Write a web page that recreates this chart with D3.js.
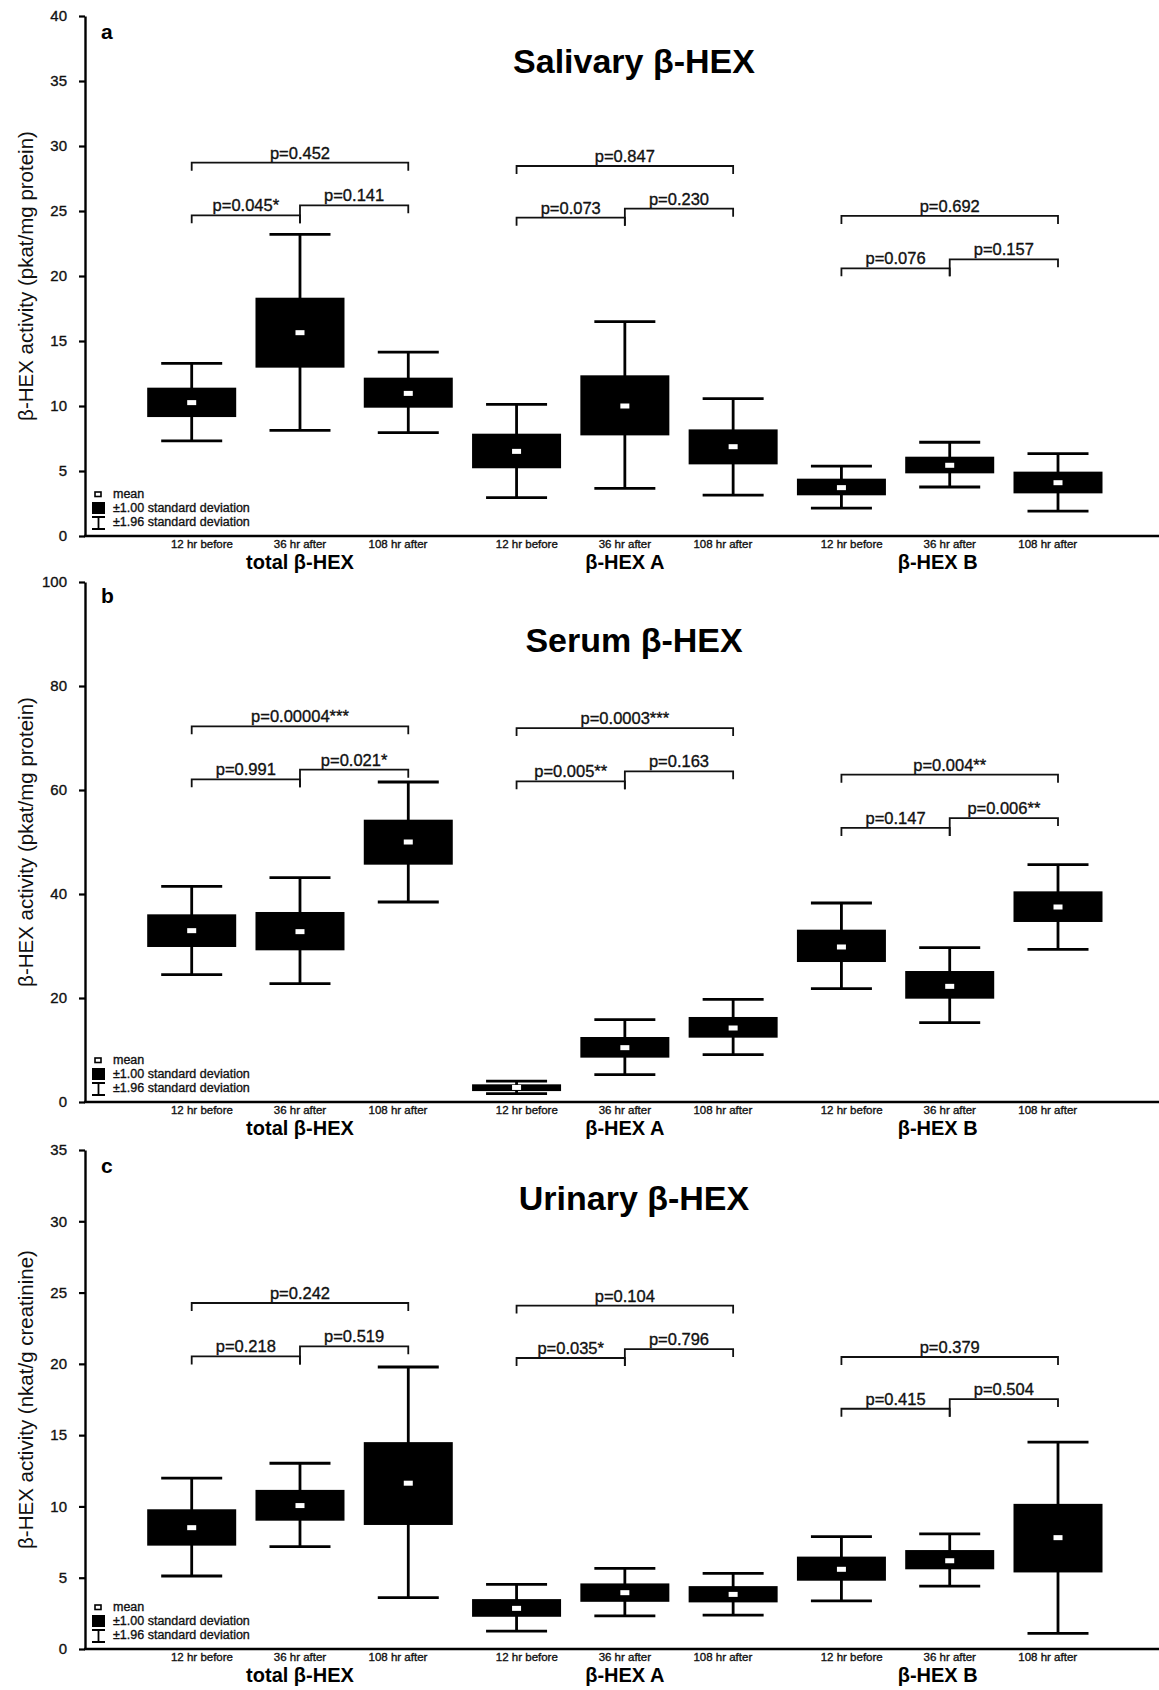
<!DOCTYPE html>
<html lang="en">
<head>
<meta charset="utf-8" />
<title>β-HEX activity</title>
<script src="https://cdn.jsdelivr.net/npm/d3@7"></script>
<style>
  body { margin: 0; background: #fff; }
  svg { display: block; font-family: "Liberation Sans", Arial, Helvetica, sans-serif; }
  .heavy { stroke: #111; stroke-width: 0.35px; }
</style>
</head>
<body>
<script>
// categories
var timepoints = ["12 hr before", "36 hr after", "108 hr after"];
var groups = ["total β-HEX", "β-HEX A", "β-HEX B"];

// values in order total 12/36/108, A 12/36/108, B 12/36/108
// salivary, pkat/mg protein
var salivaryTicks = [0, 5, 10, 15, 20, 25, 30, 35, 40];
var salivaryMean = [10.26, 15.64, 10.97, 6.51, 10.0, 6.87, 3.72, 5.44, 4.1];
var salivarySdLow = [9.15, 12.95, 9.87, 5.21, 7.74, 5.51, 3.13, 4.82, 3.28];
var salivarySdHigh = [11.41, 18.33, 12.18, 7.87, 12.36, 8.2, 4.41, 6.10, 4.95];
var salivaryCiLow = [7.31, 8.13, 7.95, 2.95, 3.67, 3.15, 2.15, 3.77, 1.92];
var salivaryCiHigh = [13.28, 23.2, 14.15, 10.13, 16.49, 10.56, 5.38, 7.21, 6.33];
// [from, to, height, label]
var salivaryTests = [
  [0, 2, 28.72, "p=0.452"], [0, 1, 24.67, "p=0.045*"], [1, 2, 25.44, "p=0.141"],
  [3, 5, 28.46, "p=0.847"], [3, 4, 24.49, "p=0.073"], [4, 5, 25.18, "p=0.230"],
  [6, 8, 24.62, "p=0.692"], [6, 7, 20.59, "p=0.076"], [7, 8, 21.28, "p=0.157"]
];

// serum, pkat/mg protein
var serumTicks = [0, 20, 40, 60, 80, 100];
var serumMean = [32.95, 32.76, 50.0, 2.8, 10.45, 14.23, 29.81, 22.24, 37.5];
var serumSdLow = [29.81, 29.17, 45.64, 2.1, 8.53, 12.37, 26.92, 19.87, 34.62];
var serumSdHigh = [36.09, 36.54, 54.29, 3.4, 12.5, 16.35, 33.14, 25.19, 40.51];
var serumCiLow = [24.49, 22.76, 38.46, 1.6, 5.26, 9.1, 21.79, 15.26, 29.36];
var serumCiHigh = [41.47, 43.14, 61.54, 4.0, 15.83, 19.74, 38.27, 29.68, 45.64];
var serumTests = [
  [0, 2, 72.24, "p=0.00004***"], [0, 1, 62.05, "p=0.991"], [1, 2, 63.9, "p=0.021*"],
  [3, 5, 71.9, "p=0.0003***"], [3, 4, 61.67, "p=0.005**"], [4, 5, 63.6, "p=0.163"],
  [6, 8, 62.95, "p=0.004**"], [6, 7, 52.7, "p=0.147"], [7, 8, 54.6, "p=0.006**"]
];

// urinary, nkat/g creatinine
var urinaryTicks = [0, 5, 10, 15, 20, 25, 30, 35];
var urinaryMean = [8.51, 10.06, 11.63, 2.85, 3.95, 3.83, 5.59, 6.19, 7.81];
var urinarySdLow = [7.25, 9.0, 8.7, 2.26, 3.31, 3.27, 4.79, 5.59, 5.37];
var urinarySdHigh = [9.8, 11.16, 14.51, 3.5, 4.6, 4.41, 6.48, 6.94, 10.18];
var urinaryCiLow = [5.12, 7.18, 3.6, 1.25, 2.33, 2.38, 3.38, 4.41, 1.09];
var urinaryCiHigh = [11.98, 13.03, 19.78, 4.53, 5.66, 5.3, 7.88, 8.07, 14.51];
var urinaryTests = [
  [0, 2, 24.27, "p=0.242"], [0, 1, 20.52, "p=0.218"], [1, 2, 21.23, "p=0.519"],
  [3, 5, 24.09, "p=0.104"], [3, 4, 20.41, "p=0.035*"], [4, 5, 21.04, "p=0.796"],
  [6, 8, 20.48, "p=0.379"], [6, 7, 16.85, "p=0.415"], [7, 8, 17.53, "p=0.504"]
];

var panels = [
  { letter: "a", title: "Salivary β-HEX", ylabel: "β-HEX activity (pkat/mg protein)",
    ticks: salivaryTicks, mean: salivaryMean, sdLo: salivarySdLow, sdHi: salivarySdHigh,
    ciLo: salivaryCiLow, ciHi: salivaryCiHigh, tests: salivaryTests,
    top: 16, bottom: 536, titleY: 73, letterY: 39 },
  { letter: "b", title: "Serum β-HEX", ylabel: "β-HEX activity (pkat/mg protein)",
    ticks: serumTicks, mean: serumMean, sdLo: serumSdLow, sdHi: serumSdHigh,
    ciLo: serumCiLow, ciHi: serumCiHigh, tests: serumTests,
    top: 582, bottom: 1102, titleY: 652, letterY: 603 },
  { letter: "c", title: "Urinary β-HEX", ylabel: "β-HEX activity (nkat/g creatinine)",
    ticks: urinaryTicks, mean: urinaryMean, sdLo: urinarySdLow, sdHi: urinarySdHigh,
    ciLo: urinaryCiLow, ciHi: urinaryCiHigh, tests: urinaryTests,
    top: 1150, bottom: 1649, titleY: 1210, letterY: 1173 }
];

var W = 1159, H = 1690;
var axisX = 85;
var boxW = 89, capW = 61;

var svg = d3.select("body").append("svg")
    .attr("width", W)
    .attr("height", H);

var x = d3.scaleLinear().domain([0, 8]).range([191.7, 1058]);

panels.forEach(function (p) {
    var g = svg.append("g");
    var y = d3.scaleLinear()
        .domain([0, d3.max(p.ticks)])
        .range([p.bottom, p.top]);

    // y axis
    var ax = g.append("g")
        .attr("transform", "translate(" + axisX + ",0)")
        .call(d3.axisLeft(y).tickValues(p.ticks).tickSize(6).tickSizeOuter(0).tickPadding(12));
    ax.select(".domain").attr("stroke-width", 2.4);
    ax.selectAll(".tick line").attr("stroke-width", 2.2);
    ax.selectAll(".tick text").attr("font-size", 15).attr("font-family", null)
        .attr("fill", "#111").attr("class", "heavy");

    // x axis line
    g.append("line")
        .attr("x1", axisX - 1).attr("x2", W)
        .attr("y1", p.bottom).attr("y2", p.bottom)
        .attr("stroke", "#000").attr("stroke-width", 2.6);

    // y label
    g.append("text")
        .attr("transform", "translate(26," + ((p.top + p.bottom) / 2) + ") rotate(-90)")
        .attr("text-anchor", "middle")
        .attr("dy", "0.35em")
        .attr("font-size", 20.5)
        .attr("fill", "#111")
        .text(p.ylabel);

    // panel letter and title
    g.append("text")
        .attr("x", 101).attr("y", p.letterY)
        .attr("font-size", 21).attr("font-weight", "bold")
        .text(p.letter);
    g.append("text")
        .attr("x", 634).attr("y", p.titleY)
        .attr("text-anchor", "middle")
        .attr("font-size", 34).attr("font-weight", "bold")
        .text(p.title);

    // x labels
    var idx = d3.range(9);
    g.selectAll(".tp").data(idx).enter().append("text")
        .attr("class", "heavy")
        .attr("x", function (i) { return x(Math.floor(i / 3) * 3 + 1) + (i % 3 - 1) * 98; })
        .attr("y", p.bottom + 12)
        .attr("text-anchor", "middle")
        .attr("font-size", 11.5)
        .attr("fill", "#111")
        .text(function (i) { return timepoints[i % 3]; });
    g.selectAll(".grp").data(groups).enter().append("text")
        .attr("x", function (d, j) { return x(j * 3 + 1) - (j === 2 ? 12 : 0); })
        .attr("y", p.bottom + 33)
        .attr("text-anchor", "middle")
        .attr("font-size", 20).attr("font-weight", "bold")
        .text(function (d) { return d; });

    // whiskers (±1.96 SD)
    var wk = g.selectAll(".wk").data(idx).enter().append("g");
    wk.append("line")
        .attr("x1", function (i) { return x(i); }).attr("x2", function (i) { return x(i); })
        .attr("y1", function (i) { return y(p.ciLo[i]); })
        .attr("y2", function (i) { return y(p.ciHi[i]); })
        .attr("stroke", "#000").attr("stroke-width", 2.8);
    ["ciLo", "ciHi"].forEach(function (k) {
        wk.append("line")
            .attr("x1", function (i) { return x(i) - capW / 2; })
            .attr("x2", function (i) { return x(i) + capW / 2; })
            .attr("y1", function (i) { return y(p[k][i]); })
            .attr("y2", function (i) { return y(p[k][i]); })
            .attr("stroke", "#000").attr("stroke-width", 2.8);
    });

    // boxes (±1.00 SD)
    g.selectAll(".box").data(idx).enter().append("rect")
        .attr("x", function (i) { return x(i) - boxW / 2; })
        .attr("y", function (i) { return y(p.sdHi[i]); })
        .attr("width", boxW)
        .attr("height", function (i) { return y(p.sdLo[i]) - y(p.sdHi[i]); })
        .attr("fill", "#000");

    // means
    g.selectAll(".mean").data(idx).enter().append("rect")
        .attr("x", function (i) { return x(i) - 4.5; })
        .attr("y", function (i) { return y(p.mean[i]) - 2.5; })
        .attr("width", 9).attr("height", 5)
        .attr("fill", "#fff");

    // significance brackets
    var leg = 8;
    p.tests.forEach(function (t) {
        var x1 = x(t[0]), x2 = x(t[1]), yy = y(t[2]);
        var leftBottom = yy + leg;
        p.tests.forEach(function (o) {
            if (o[1] === t[0] && o[0] !== t[0]) leftBottom = Math.max(leftBottom, y(o[2]) + leg);
        });
        g.append("path")
            .attr("d", "M" + x1 + "," + leftBottom + "V" + yy + "H" + x2 + "V" + (yy + leg))
            .attr("fill", "none").attr("stroke", "#111").attr("stroke-width", 1.8);
        g.append("text")
            .attr("class", "heavy")
            .attr("x", (x1 + x2) / 2).attr("y", yy - 4)
            .attr("text-anchor", "middle")
            .attr("font-size", 16.5)
            .attr("fill", "#111")
            .text(t[3]);
    });

    // legend
    var lb = p.bottom;
    var lg = g.append("g");
    lg.append("rect")
        .attr("x", 95).attr("y", lb - 44).attr("width", 6).attr("height", 4.5)
        .attr("fill", "#fff").attr("stroke", "#000").attr("stroke-width", 1.6);
    lg.append("rect")
        .attr("x", 92).attr("y", lb - 34).attr("width", 13).attr("height", 12)
        .attr("fill", "#000");
    lg.append("path")
        .attr("d", "M92," + (lb - 19) + "H105M98.5," + (lb - 19) + "V" + (lb - 7) + "M92," + (lb - 7) + "H105")
        .attr("fill", "none").attr("stroke", "#000").attr("stroke-width", 1.8);
    lg.selectAll("text")
        .data(["mean", "±1.00 standard deviation", "±1.96 standard deviation"])
        .enter().append("text")
        .attr("class", "heavy")
        .attr("x", 113)
        .attr("y", function (d, j) { return lb - 38 + j * 14; })
        .attr("font-size", 12.5)
        .attr("fill", "#111")
        .text(function (d) { return d; });
});
</script>
</body>
</html>
